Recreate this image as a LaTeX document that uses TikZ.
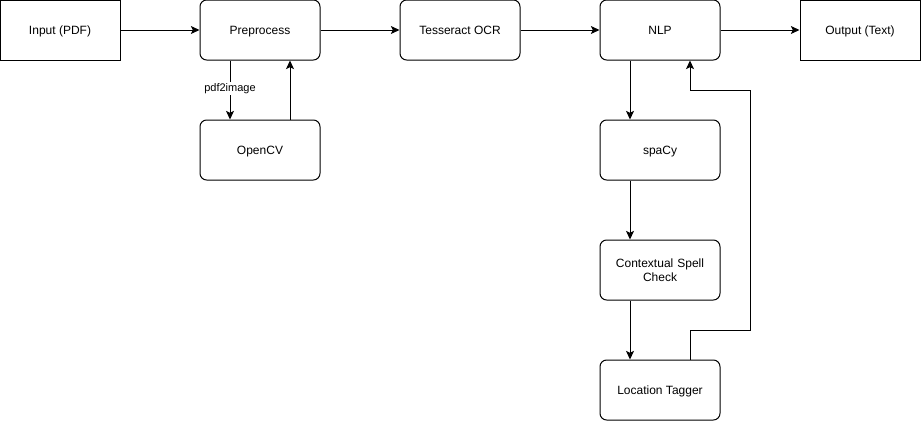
\documentclass[tikz,border=0pt]{standalone}
\usepackage{fontspec}
\setmainfont{Liberation Sans}
\usetikzlibrary{arrows.meta}
\newcommand\boxstrut{\rule[-1.9pt]{0pt}{10.3pt}}
\tikzset{
  stagebox/.style={draw=black, line width=0.75pt, fill=white, rounded corners=5pt, minimum width=90pt, minimum height=45pt, inner sep=0pt, align=center, font=\fontsize{9}{11}\selectfont, execute at begin node=\boxstrut, execute at end node=\boxstrut},
  endbox/.style={stagebox, rounded corners=0pt},
  flow/.style={draw=black, line width=0.75pt, -{Stealth[length=6.5pt, width=6pt, inset=1.5pt]}},
}

\begin{document}
\begin{tikzpicture}[x=0.75pt, y=-0.75pt]
  \useasboundingbox (0,0) rectangle (921,421);

  \node[endbox] (input) at (60,30) {Input (PDF)};
  \node[stagebox] (prep) at (260,30) {Preprocess};
  \node[stagebox] (ocr) at (460,30) {Tesseract OCR};
  \node[stagebox] (nlp) at (660,30) {NLP};
  \node[endbox] (output) at (860,30) {Output (Text)};
  \node[stagebox] (cv) at (260,150) {OpenCV};
  \node[stagebox] (spacy) at (660,150) {spaCy};
  \node[stagebox, text width=80pt] (spell) at (660,270) {Contextual Spell\\Check};
  \node[stagebox] (tagger) at (660,390) {Location Tagger};

  \coordinate (bendlow) at (750,330);
  \coordinate (bendhigh) at (750,90);

  \draw[flow] (input) -- (prep);
  \draw[flow] (prep) -- (ocr);
  \draw[flow] (ocr) -- (nlp);
  \draw[flow] (nlp) -- (output);

  \draw[flow] ([xshift=-22.5pt]prep.south) -- node[fill=white, inner sep=1pt, font=\fontsize{8.25}{10}\selectfont, pos=0.47] {pdf2image} ([xshift=-22.5pt]cv.north);
  \draw[flow] ([xshift=22.5pt]cv.north) -- ([xshift=22.5pt]prep.south);

  \draw[flow] ([xshift=-22.5pt]nlp.south) -- ([xshift=-22.5pt]spacy.north);
  \draw[flow] ([xshift=-22.5pt]spacy.south) -- ([xshift=-22.5pt]spell.north);
  \draw[flow] ([xshift=-22.5pt]spell.south) -- ([xshift=-22.5pt]tagger.north);
  \draw[flow] ([xshift=22.5pt]tagger.north) |- (bendlow) -- (bendhigh) -| ([xshift=22.5pt]nlp.south);
\end{tikzpicture}
\end{document}
